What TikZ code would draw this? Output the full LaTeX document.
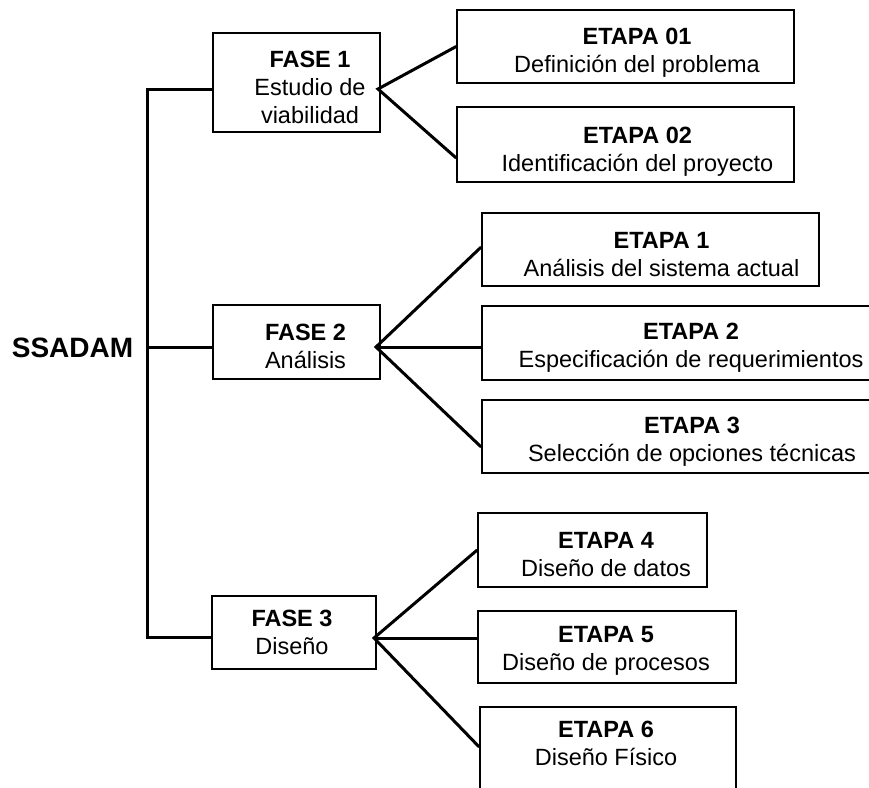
\documentclass[tikz,border=0pt]{standalone}
\usepackage{fontspec}
\setmainfont{Liberation Sans}
\usepackage{tikz}
\usetikzlibrary{positioning, calc}

\begin{document}
\begin{tikzpicture}[
    x=1pt, y=-1pt,
    box/.style={draw, line width=1.6pt, inner sep=0pt},
    txt/.style={align=center, inner sep=0pt, font=\fontsize{23.5}{28}\selectfont},
    link/.style={line width=3pt}
]
\useasboundingbox (0,0) rectangle (869,787);
\clip (0,0) rectangle (869,787);

% Root
\node[inner sep=0pt, font=\fontsize{28}{32}\selectfont\bfseries] (root) at (72.5,347.5) {SSADAM};

% Fases
\node[box, minimum width=167, minimum height=99] (f1) at (296.5,82.5) {};
\node[txt] (f1t) at (310,87) {\textbf{FASE 1}\\Estudio de\\viabilidad};

\node[box, minimum width=167, minimum height=74] (f2) at (296.5,342) {};
\node[txt] (f2t) at (305.5,346.5) {\textbf{FASE 2}\\Análisis};

\node[box, minimum width=164, minimum height=73] (f3) at (294,632.5) {};
\node[txt] (f3t) at (292,632.5) {\textbf{FASE 3}\\Diseño};

% Etapas fase 1
\node[box, minimum width=337, minimum height=73] (e01) at (625.5,46.5) {};
\node[txt] (e01t) at (637,52.5) {\textbf{ETAPA 01}\\Definición del problema};

\node[box, minimum width=337, minimum height=75] (e02) at (625.5,144.5) {};
\node[txt] (e02t) at (637.5,152) {\textbf{ETAPA 02}\\Identificación del proyecto};

% Etapas fase 2
\node[box, minimum width=337, minimum height=73] (e1) at (650.5,249.5) {};
\node[txt] (e1t) at (661.5,254.5) {\textbf{ETAPA 1}\\Análisis del sistema actual};

\node[box, minimum width=418, minimum height=74] (e2) at (691,343) {};
\node[txt] (e2t) at (691,348) {\textbf{ETAPA 2}\\Especificación de requerimientos};

\node[box, minimum width=418, minimum height=73] (e3) at (691,436.5) {};
\node[txt] (e3t) at (692,441.5) {\textbf{ETAPA 3}\\Selección de opciones técnicas};

% Etapas fase 3
\node[box, minimum width=229, minimum height=74] (e4) at (592.5,550) {};
\node[txt] (e4t) at (606,554.5) {\textbf{ETAPA 4}\\Diseño de datos};

\node[box, minimum width=258, minimum height=72] (e5) at (607,647) {};
\node[txt] (e5t) at (606,650.5) {\textbf{ETAPA 5}\\Diseño de procesos};

\node[box, minimum width=256, minimum height=93] (e6) at (608,753.5) {};
\node[txt] (e6t) at (606,743) {\textbf{ETAPA 6}\\Diseño Físico};

% Spine
\coordinate (top) at (147,89);
\coordinate (mid) at (147,347);
\coordinate (bot) at (147,637);
\draw[link] ([yshift=-6.5pt]f1.west) -- (top) -- (bot) -- ([yshift=-4.5pt]f3.west);
\draw[link] (mid) -- ([yshift=-5pt]f2.west);

% Hubs
\coordinate (h1) at (378,89);
\coordinate (h2) at (376,347);
\coordinate (h3) at (374,638);

\draw[link] (e01.west) -- (h1) -- ([yshift=-13.5pt]e02.west);
\draw[link] ([yshift=2.5pt]e1.west) -- (h2) -- ([yshift=-10.5pt]e3.west);
\draw[link] (h2) -- ([yshift=-4pt]e2.west);
\draw[link] (e4.west) -- (h3) -- ([yshift=6.5pt]e6.west);
\draw[link] (h3) -- ([yshift=9pt]e5.west);

\end{tikzpicture}
\end{document}
